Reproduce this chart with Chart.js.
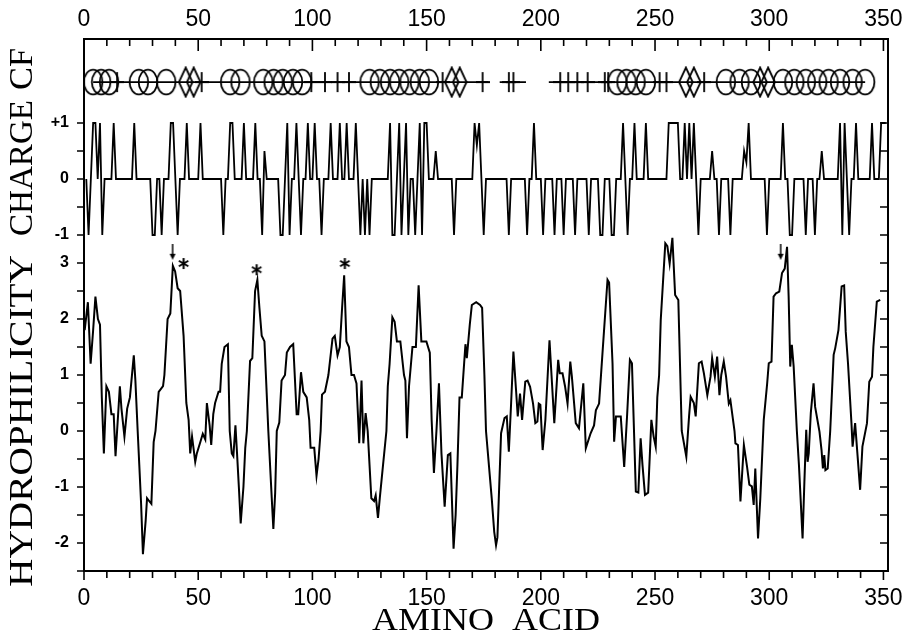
<!DOCTYPE html>
<html><head><meta charset="utf-8">
<script src="https://cdn.jsdelivr.net/npm/chart.js@4.4.0/dist/chart.umd.min.js"></script>
<style>html,body{margin:0;padding:0;background:#fff;}#wrap{width:907px;height:639px;}</style>
</head><body><div id="wrap"><canvas id="c" width="907" height="639"></canvas></div>
<script>
// ---------- data ----------
const xTickLabels = [0, 50, 100, 150, 200, 250, 300, 350];
const hydroTickValues = [-2, -1, 0, 1, 2, 3];
const hydroTickLabels = ['-2', '-1', '0', '1', '2', '3'];
const chargeTickValues = [-1, 0, 1];
const chargeTickLabels = ['-1', '0', '+1'];

const hydroX = [0.3,1.7,2.9,4.0,5.0,6.1,7.0,7.8,8.7,9.8,10.9,12.0,13.0,13.8,15.7,16.4,17.7,18.9,20.1,21.8,22.5,23.5,24.2,25.0,25.8,27.0,27.6,28.5,29.5,30.5,31.3,32.7,34.6,35.2,35.9,36.6,37.8,38.9,39.9,41.0,42.1,43.6,44.8,45.8,46.5,47.3,48.7,49.4,50.9,52.0,53.1,53.8,55.0,55.7,56.6,57.4,58.9,59.6,60.3,61.5,63.0,63.8,64.7,65.4,66.3,67.0,67.8,68.6,69.8,70.6,71.3,72.7,73.7,74.9,75.9,76.8,77.8,79.0,80.7,82.2,82.9,83.7,84.4,85.5,86.5,88.0,88.8,90.2,91.6,93.1,93.8,95.0,96.0,97.5,98.6,99.2,100.8,101.8,102.7,103.6,104.2,105.5,107.0,108.8,109.8,111.0,112.0,113.0,113.9,114.9,116.0,117.1,118.2,119.3,120.5,121.5,122.3,123.3,124.2,125.0,125.8,127.0,127.7,128.7,129.5,130.7,132.4,133.0,133.8,135.0,136.0,137.0,138.5,140.1,140.7,141.4,142.3,143.8,145.3,146.5,147.7,149.9,151.4,152.2,153.2,154.3,155.4,156.5,157.9,159.3,160.4,161.8,162.7,163.5,164.4,165.4,167.0,167.6,168.9,169.8,171.7,173.4,174.3,175.3,176.0,178.5,179.6,180.4,181.0,182.6,184.1,185.1,186.0,187.0,188.0,189.2,189.9,190.9,191.8,193.2,194.2,195.3,196.6,197.6,198.5,199.1,199.8,200.8,202.0,203.8,205.9,207.6,208.3,209.5,210.6,211.7,212.9,213.6,215.3,216.7,218.6,219.7,221.8,223.3,224.1,225.5,227.0,229.2,229.9,231.4,232.1,232.9,235.0,236.5,237.8,239.0,239.9,241.6,242.7,243.7,244.5,245.6,247.0,248.4,249.4,250.3,251.0,251.8,252.5,254.5,255.4,256.4,257.6,258.8,260.2,261.7,263.7,264.9,265.6,267.0,267.8,269.2,270.4,271.4,272.9,274.3,275.0,276.2,277.2,278.2,279.0,280.1,281.1,282.3,283.0,284.8,285.2,286.3,287.4,288.9,290.3,291.3,292.4,293.2,293.9,295.1,296.1,297.6,299.1,299.8,301.0,301.9,303.0,304.4,305.6,306.8,307.8,308.5,309.2,309.9,310.7,312.1,313.0,314.6,315.4,316.2,316.8,317.3,318.2,319.4,320.1,321.6,322.0,322.9,323.5,324.1,324.6,325.6,326.7,328.2,328.9,330.3,331.7,332.8,333.5,334.5,336.0,336.5,337.6,339.8,340.8,342.8,343.8,345.0,345.6,347.1,348.6];
const hydroY = [1.8,2.3,1.2,1.8,2.4,2.0,1.9,0.6,-0.4,0.8,0.7,0.3,0.3,-0.45,0.8,0.4,-0.1,0.4,0.6,1.35,0.9,0.0,-0.6,-1.3,-2.2,-1.6,-1.2,-1.25,-1.3,-0.2,0.0,0.7,0.8,1.0,1.5,2.0,2.1,2.95,2.85,2.55,2.5,1.7,0.5,0.2,-0.4,-0.1,-0.55,-0.4,-0.2,-0.05,-0.15,0.5,0.1,-0.25,0.3,0.5,0.7,0.7,1.2,1.5,1.55,0.0,-0.4,-0.45,0.1,-0.4,-1.0,-1.65,-1.0,-0.3,0.0,1.25,1.3,2.5,2.7,2.2,1.7,1.6,0.0,-1.2,-1.75,-1.1,0.0,0.15,0.9,1.0,1.4,1.5,1.55,0.3,0.3,1.05,0.7,0.6,0.2,-0.3,-0.3,-0.8,-0.5,0.0,0.65,0.7,1.0,1.65,1.7,1.35,1.5,2.2,2.78,1.6,1.5,1.0,1.0,0.85,-0.22,0.9,-0.22,0.32,0.0,-0.6,-1.2,-1.25,-1.15,-1.55,-1.2,-0.7,0.0,0.8,1.2,2.03,1.95,1.6,1.6,1.0,0.9,-0.13,0.8,1.5,1.5,2.6,1.6,1.6,1.4,0.2,-0.75,0.0,0.85,-0.4,-1.35,-0.43,-0.4,-2.1,-1.5,-0.6,0.6,0.6,1.55,1.3,1.9,2.25,2.3,2.25,2.2,1.0,0.0,-1.2,-1.8,-2.04,-1.9,-0.04,0.23,0.26,-0.37,0.5,1.42,0.7,0.26,0.67,0.2,0.88,0.9,0.79,0.49,0.14,0.17,0.49,0.47,-0.34,0.2,1.62,0.14,1.27,1.03,1.03,0.8,0.49,1.24,0.97,0.14,0.05,0.85,-0.31,-0.04,0.1,0.37,0.49,1.39,2.7,2.65,1.2,-0.19,0.26,0.26,-0.64,0.3,1.27,1.21,-1.08,-1.1,-0.13,-0.6,-1.14,-1.1,0.2,-0.1,-0.28,0.6,1.0,1.98,3.35,3.3,2.99,3.45,2.43,2.34,0.0,-0.46,0.26,0.61,0.5,0.26,1.21,1.24,1.03,0.64,0.97,1.3,0.97,1.33,0.64,1.0,1.24,0.97,0.49,0.55,0.0,-0.22,-0.25,-1.26,-0.25,-0.64,-0.96,-0.99,-1.32,-0.67,-1.92,-1.2,0.2,0.85,1.21,1.24,2.4,2.46,2.49,2.82,2.9,3.29,2.4,1.15,1.54,1.15,0.0,-0.6,-1.92,-0.9,0.02,-0.55,-0.4,0.32,0.85,0.43,0.08,-0.01,-0.34,-0.67,-0.43,-0.7,-0.67,0.0,1.36,1.48,1.8,2.58,2.6,1.77,1.2,0.14,-0.28,0.14,-1.05,-0.28,0.14,0.88,0.97,1.5,2.31,2.34];

// net charge per residue: residues with +1, with -1, and a few partial values
const chargeLength = 351;
const chargePositive = [4,5,7,13,22,38,39,45,51,64,65,70,75,89,93,98,101,108,112,115,119,134,138,141,147,149,150,171,173,197,236,241,246,256,257,258,259,260,263,265,267,291,306,331,333,338,345,349,350,351];
const chargeNegative = [2,8,30,31,34,41,61,78,86,87,90,95,104,121,123,125,135,136,139,142,145,148,162,175,186,194,201,206,210,215,221,226,227,231,232,238,269,278,283,299,309,310,316,320,332,335];
const chargeOtherRes = [79,154,172,275,289,290,323];
const chargeOtherVal = [0.5,0.5,0.6,0.5,0.5,0.3,0.5];

// CF (secondary structure) row
const cfCircles = [4,7.5,11,24,28,36,64,68.5,78.5,83,87,91.5,95.5,125,129.5,134,138,142.5,147,151,233.5,237.5,241.5,246,281,287,292,306,311,316,321,326,331,336.5,342];
const cfDiamonds = [44.5,48,161,164.5,263.5,267,296,299.5];
const cfPlus = [14.5,51.5,99.5,105.5,111,116,157,174.5,186,188,208.5,212,216,220.5,228,229.5,252,255,271.5];
const cfLineStart = [4,182,203.5];
const cfLineEnd = [177,193.5,342];

// annotations
const asteriskX = [43.6, 75.6, 114.2];
const asteriskY = [2.99, 2.88, 2.99];
const arrowX = [38.8, 305.0];
const arrowY = [3.2, 3.2];

// rows of the shared vertical axis
const chargeRow = 4.5;   // charge 0 sits here
const cfRow = 6.23;

// ---------- build datasets ----------
const posSet = new Set(chargePositive), negSet = new Set(chargeNegative);
const chargeData = [];
for (let r = 1; r <= chargeLength; r++) {
  let v = 0;
  if (posSet.has(r)) v = 1;
  else if (negSet.has(r)) v = -1;
  else { const k = chargeOtherRes.indexOf(r); if (k >= 0) v = chargeOtherVal[k]; }
  chargeData.push({x: r, y: v + chargeRow});
}
const hydroData = hydroX.map((x, i) => ({x, y: hydroY[i]}));
const cfLineData = [];
cfLineStart.forEach((s, i) => {
  cfLineData.push({x: s, y: cfRow}, {x: cfLineEnd[i], y: cfRow});
  if (i < cfLineStart.length - 1) cfLineData.push({x: (cfLineEnd[i] + cfLineStart[i+1]) / 2, y: null});
});

function mk(w, h, draw) { const c = document.createElement('canvas'); c.width = w; c.height = h; const g = c.getContext('2d'); g.strokeStyle = '#000'; g.fillStyle = '#000'; g.lineWidth = 1.8; draw(g); return c; }
const ellipseImg = mk(22, 28, g => { g.beginPath(); g.ellipse(11, 14, 9.3, 12.4, 0, 0, Math.PI * 2); g.stroke(); });
const diamondImg = mk(16, 32, g => { g.beginPath(); g.moveTo(8, 1.5); g.lineTo(14.8, 16); g.lineTo(8, 30.5); g.lineTo(1.2, 16); g.closePath(); g.stroke(); });
const plusImg = mk(14, 22, g => { g.beginPath(); g.moveTo(7, 1); g.lineTo(7, 21); g.moveTo(0, 11); g.lineTo(14, 11); g.stroke(); });
const asteriskImg = mk(13, 13, g => { g.lineWidth = 2; g.beginPath(); const c = 6.5, r = 5.5; for (const a of [90, 30, 150]) { const t = a * Math.PI / 180; g.moveTo(c - r * Math.cos(t), c - r * Math.sin(t)); g.lineTo(c + r * Math.cos(t), c + r * Math.sin(t)); } g.stroke(); });
const arrowImg = mk(8, 16, g => { g.lineWidth = 1.5; g.beginPath(); g.moveTo(4, 0); g.lineTo(4, 12); g.stroke(); g.beginPath(); g.moveTo(1, 10); g.lineTo(7, 10); g.lineTo(4, 16); g.closePath(); g.fill(); });

// ---------- frame, ticks and titles ----------
const frame = {
  id: 'frame',
  afterDraw(chart) {
    const {ctx, chartArea: a, scales} = chart;
    const x = scales.x, y = scales.y;
    ctx.save();
    ctx.strokeStyle = '#000';
    ctx.lineWidth = 2;
    ctx.strokeRect(a.left, a.top, a.right - a.left, a.bottom - a.top);
    ctx.lineWidth = 1.6;
    ctx.beginPath();
    for (let v = 0; v <= 350; v += 10) {
      const px = x.getPixelForValue(v), major = v % 50 === 0;
      ctx.moveTo(px, a.top); ctx.lineTo(px, a.top + (major ? 12 : 7));
      ctx.moveTo(px, a.bottom); ctx.lineTo(px, a.bottom + (major ? 9 : 7));
    }
    for (let v = -2.5; v <= 5.51; v += 0.5) {
      const py = y.getPixelForValue(v);
      ctx.moveTo(a.left, py); ctx.lineTo(a.left - 7, py);
      ctx.moveTo(a.right, py); ctx.lineTo(a.right - 8, py);
    }
    ctx.stroke();
    // titles
    ctx.fillStyle = '#000';
    ctx.textAlign = 'center';
    ctx.textBaseline = 'middle';
    function title(text, cx, cy, size, targetW, rot) {
      ctx.save();
      ctx.translate(cx, cy);
      if (rot) ctx.rotate(-Math.PI / 2);
      ctx.font = size + 'px "Liberation Serif", "DejaVu Serif", serif';
      const w = ctx.measureText(text).width;
      ctx.scale(targetW / w, 1);
      ctx.fillText(text, 0, 0);
      ctx.restore();
    }
    title('CF', 23, 69, 34, 42, true);
    title('CHARGE', 23, 168, 34, 136, true);
    title('HYDROPHILICITY', 23, 421, 34, 332, true);
    title('AMINO  ACID', (a.left + a.right) / 2, 622, 32, 228, false);
    ctx.restore();
  }
};

const labelFor = v => {
  let i = hydroTickValues.indexOf(v);
  if (i >= 0) return hydroTickLabels[i];
  i = chargeTickValues.indexOf(Math.round((v - chargeRow) * 100) / 100);
  if (i >= 0) return chargeTickLabels[i];
  return '';
};
const noPad = s => { s.paddingLeft = 0; s.paddingRight = 0; };

const tickFontX = {family: '"Liberation Sans", Arial, sans-serif', size: 23};
new Chart(document.getElementById('c'), {
  type: 'scatter',
  data: {
    datasets: [
      {label: 'Hydrophilicity', data: hydroData, showLine: true, borderColor: '#000', borderWidth: 2, pointRadius: 0, tension: 0},
      {label: 'Charge', data: chargeData, showLine: true, borderColor: '#000', borderWidth: 1.8, pointRadius: 0, tension: 0},
      {label: 'CF line', data: cfLineData, showLine: true, spanGaps: false, borderColor: '#000', borderWidth: 1.8, pointRadius: 0},
      {label: 'Helix', data: cfCircles.map(x => ({x, y: cfRow})), pointStyle: ellipseImg, pointRadius: 10},
      {label: 'Turn', data: cfDiamonds.map(x => ({x, y: cfRow})), pointStyle: diamondImg, pointRadius: 10},
      {label: 'Sheet', data: cfPlus.map(x => ({x, y: cfRow})), pointStyle: plusImg, pointRadius: 8},
      {label: 'Peaks', data: asteriskX.map((x, i) => ({x, y: asteriskY[i]})), pointStyle: asteriskImg, pointRadius: 6},
      {label: 'Arrows', data: arrowX.map((x, i) => ({x, y: arrowY[i]})), pointStyle: arrowImg, pointRadius: 6}
    ]
  },
  options: {
    responsive: false, animation: false, events: [],
    layout: {padding: {left: 0, right: 19, top: 0, bottom: 0}},
    plugins: {legend: {display: false}, tooltip: {enabled: false}},
    scales: {
      x: {
        type: 'linear', position: 'bottom', min: 0, max: 352,
        grid: {display: false, drawTicks: false}, border: {display: false},
        afterBuildTicks: s => { s.ticks = xTickLabels.map(v => ({value: v})); },
        afterFit: s => { s.height = 68; noPad(s); },
        ticks: {autoSkip: false, maxRotation: 0, padding: 14, color: '#000', font: tickFontX, callback: v => String(v)}
      },
      xTop: {
        type: 'linear', position: 'top', min: 0, max: 352,
        grid: {display: false, drawTicks: false}, border: {display: false},
        afterBuildTicks: s => { s.ticks = xTickLabels.map(v => ({value: v})); },
        afterFit: s => { s.height = 39; noPad(s); },
        ticks: {autoSkip: false, maxRotation: 0, padding: 6, color: '#000', font: tickFontX, callback: v => String(v)}
      },
      y: {
        type: 'linear', position: 'left', min: -2.5, max: 7.0,
        grid: {display: false, drawTicks: false}, border: {display: false},
        afterBuildTicks: s => { s.ticks = hydroTickValues.concat(chargeTickValues.map(v => v + chargeRow)).map(v => ({value: v})); },
        afterFit: s => { s.width = 84; s.paddingTop = 0; s.paddingBottom = 0; },
        ticks: {autoSkip: false, padding: 15, color: '#000', font: {family: '"Liberation Sans", Arial, sans-serif', size: 16, weight: 'bold'}, callback: v => labelFor(v)}
      }
    }
  },
  plugins: [frame]
});
</script></body></html>
